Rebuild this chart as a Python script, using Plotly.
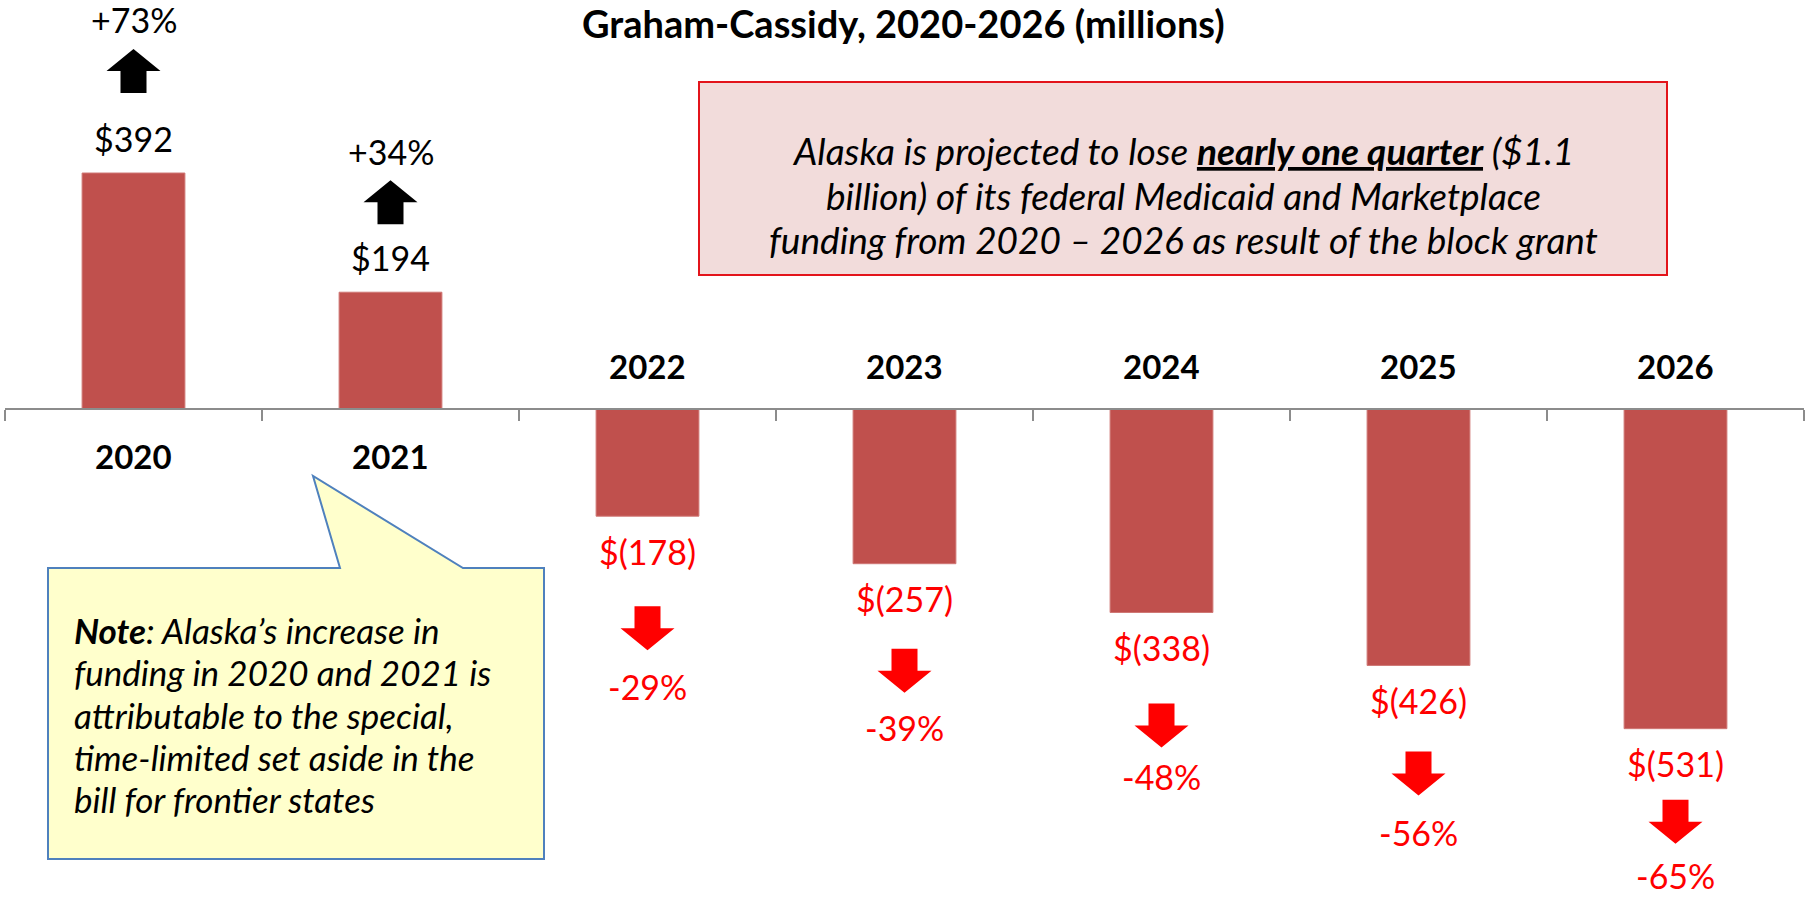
import plotly.graph_objects as go

# ---------------- data ----------------
years = ["2020", "2021", "2022", "2023", "2024", "2025", "2026"]
change_millions = [392, 194, -178, -257, -338, -426, -531]
pct_change = [73, 34, -29, -39, -48, -56, -65]

title_text = "Graham-Cassidy, 2020-2026 (millions)"
box_lines = [
    "Alaska is projected to lose <b><u>nearly one quarter</u></b> ($1.1",
    "billion) of its federal Medicaid and Marketplace",
    "funding from 2020 \u2013 2026 as result of the block grant",
]
note_lines = [
    "<b>Note</b>: Alaska\u2019s increase in",
    "funding in 2020 and 2021 is",
    "attributable to the special,",
    "time-limited set aside in the",
    "bill for frontier states",
]

# ---------------- layout constants ----------------
W, H = 1806, 901
FONT = "Lato"
BAR_COLOR = "#C0504D"
AXIS_COLOR = "#8C8C8C"
NEG_COLOR = "#FF0000"
PX_PER_UNIT = 0.602
ZERO_PX = 409  # pixel row of the zero line from the top
y_max = ZERO_PX / PX_PER_UNIT
y_min = -(H - ZERO_PX) / PX_PER_UNIT
x_left_px, x_right_px = 5, 1804

label_gap = 35          # value label centre from bar end (px)
arrow_gap = [67, 55, 77, 72, 78, 73, 58]   # arrow centre from value label (px)
pct_gap = [52, 51, 58, 57, 51, 59, 54]     # pct label from arrow centre (px)

xs = list(range(len(years)))

fig = go.Figure()
fig.add_trace(go.Bar(
    x=xs, y=change_millions, width=0.4,
    marker=dict(color=BAR_COLOR, line=dict(color="#CF7774", width=1)),
    hoverinfo="skip", showlegend=False,
))

annotations = []
shapes = []


def arrow_path(cy, up):
    s = 1 if up else -1
    hw, sw, hh = 27, 13, 22  # head half-width, shaft half-width, half height
    pts = [(-sw, cy - s * hh), (sw, cy - s * hh), (sw, cy), (hw, cy),
           (0, cy + s * hh), (-hw, cy), (-sw, cy)]
    return "M" + " L".join(f"{px},{py}" for px, py in pts) + " Z"


for i, (x, v, p) in enumerate(zip(xs, change_millions, pct_change)):
    up = v >= 0
    sgn = 1 if up else -1
    col = "black" if up else NEG_COLOR
    vtxt = f"${v}" if up else f"$({-v})"
    ptxt = f"+{p}%" if p >= 0 else f"{p}%"
    off_label = sgn * label_gap
    off_arrow = off_label + sgn * arrow_gap[i]
    off_pct = off_arrow + sgn * pct_gap[i]
    annotations.append(dict(x=x, y=v, xref="x", yref="y", text=vtxt, showarrow=False,
                            yshift=off_label, yanchor="middle",
                            font=dict(family=FONT, size=34, color=col)))
    annotations.append(dict(x=x, y=v, xref="x", yref="y", text=ptxt, showarrow=False,
                            yshift=off_pct, yanchor="middle",
                            font=dict(family=FONT, size=34, color=col)))
    shapes.append(dict(type="path", xref="x", yref="y",
                       xsizemode="pixel", ysizemode="pixel",
                       xanchor=x, yanchor=v,
                       path=arrow_path(off_arrow, up),
                       fillcolor=col, line=dict(width=0)))
    # year label: below axis for gains, above axis for losses
    annotations.append(dict(x=x, y=0, xref="x", yref="y", text=f"<b>{years[i]}</b>",
                            showarrow=False, yshift=(-47 if up else 43), yanchor="middle",
                            font=dict(family=FONT, size=33, color="black")))

# title
annotations.append(dict(x=0.5, y=1 - 23 / H, xref="paper", yref="paper",
                        text=f"<b>{title_text}</b>", showarrow=False, yanchor="middle",
                        font=dict(family=FONT, size=38, color="black")))

# pink summary box
bx0, bx1, by0, by1 = 699, 1667, 82, 275
shapes.append(dict(type="rect", xref="paper", yref="paper",
                   x0=bx0 / W, x1=bx1 / W, y0=1 - by1 / H, y1=1 - by0 / H,
                   fillcolor="#F2DCDB", line=dict(color="#E3141B", width=2)))
for k, line in enumerate(box_lines):
    annotations.append(dict(x=(bx0 + bx1) / 2 / W, y=1 - (150.5 + 44.5 * k) / H,
                            xref="paper", yref="paper",
                            text=f"<i>{line}</i>", showarrow=False, align="center",
                            xanchor="center", yanchor="middle",
                            font=dict(family=FONT, size=37, color="black")))

# yellow callout note
pts = [(48, 568), (340, 568), (313, 476), (463, 568), (544, 568), (544, 859), (48, 859)]
path = "M" + " L".join(f"{px / W},{1 - py / H}" for px, py in pts) + " Z"
shapes.append(dict(type="path", xref="paper", yref="paper", path=path,
                   fillcolor="#FFFFCC", line=dict(color="#4F81BD", width=2)))
for k, line in enumerate(note_lines):
    annotations.append(dict(x=72 / W, y=1 - (630 + 42.3 * k) / H, xref="paper", yref="paper",
                            text=f"<i>{line}</i>", showarrow=False, align="left",
                            xanchor="left", yanchor="middle",
                            font=dict(family=FONT, size=35, color="black")))

zero_frac = (0 - y_min) / (y_max - y_min)
fig.update_layout(
    width=W, height=H,
    margin=dict(l=0, r=0, t=0, b=0),
    paper_bgcolor="white", plot_bgcolor="white",
    bargap=0.6,
    xaxis=dict(range=[-0.5, len(years) - 0.5], domain=[x_left_px / W, x_right_px / W],
               tickvals=[k - 0.5 for k in range(len(years) + 1)],
               ticks="outside", ticklen=11, tickwidth=2, tickcolor=AXIS_COLOR,
               showticklabels=False, showline=True, linecolor=AXIS_COLOR, linewidth=2,
               showgrid=False, zeroline=False, anchor="free", position=zero_frac),
    yaxis=dict(range=[y_min, y_max], visible=False, showgrid=False, zeroline=False),
    annotations=annotations,
    shapes=shapes,
    showlegend=False,
)

fig.write_html("out.html")
